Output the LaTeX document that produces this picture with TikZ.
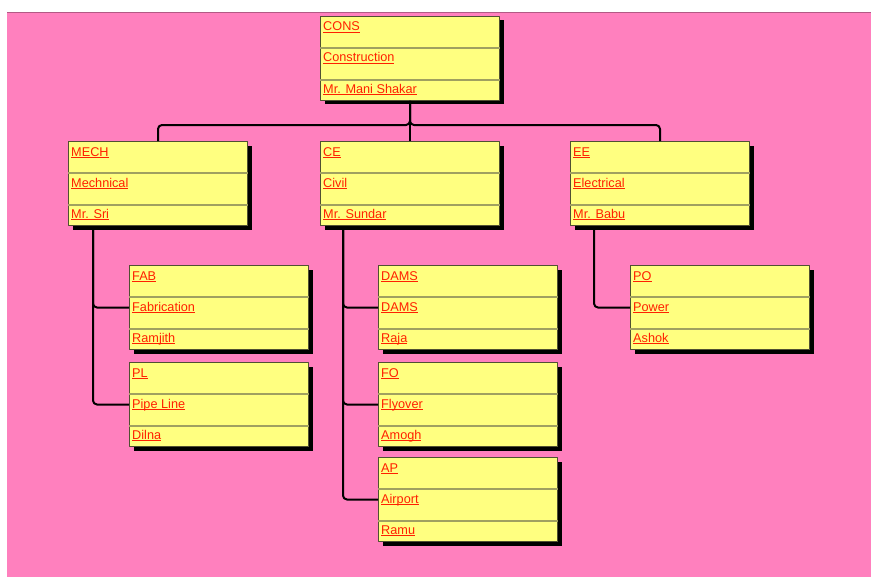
\documentclass[tikz,border=0pt]{standalone}
\usepackage{fontspec}
\setmainfont{Liberation Sans}
\usetikzlibrary{calc,shadows}
\definecolor{pagepink}{RGB}{255,128,190}
\definecolor{cardyellow}{RGB}{255,255,128}
\definecolor{cardedge}{RGB}{80,80,50}
\definecolor{rowline}{RGB}{160,160,96}
\definecolor{linkred}{RGB}{255,32,0}
\newcommand\linktext[1]{\setbox0\hbox{#1}\rlap{\rule[-1.8pt]{\wd0}{1.1pt}}\box0}
% one card: name, x, y, code, title, head
\newcommand\orgcard[6]{%
  \node [card] (#1) at (#2,#3) {};
  \draw [rowsep] ($(#1.north west)+(0,32)$) -- ($(#1.north east)+(0,32)$);
  \draw [rowsep] ($(#1.north west)+(0,64)$) -- ($(#1.north east)+(0,64)$);
  \node [cardtext] at ($(#1.north west)+(3,15)$) {\linktext{#4}};
  \node [cardtext] at ($(#1.north west)+(3,46)$) {\linktext{#5}};
  \node [cardtext] at ($(#1.north west)+(3,77)$) {\linktext{#6}};
}
\begin{document}
\begin{tikzpicture}[x=1pt, y=-1pt, line join=round,
   card/.style={anchor=north west, rectangle, draw=cardedge, line width=1pt,
      fill=cardyellow, minimum width=179pt, minimum height=84pt, inner sep=0pt,
      drop shadow={shadow xshift=4pt, shadow yshift=-4pt, fill=black, opacity=1}},
   rowsep/.style={draw=rowline, line width=1.3pt},
   cardtext/.style={anchor=base west, inner sep=0pt, text=linkred,
      font=\fontsize{12.7}{14}\selectfont},
   link/.style={draw=black, line width=2pt, rounded corners=4pt}]
	  \useasboundingbox (0,0) rectangle (871,578);
	  \fill [pagepink] (7,12) rectangle (871,577);
	  \draw [pagepink!70!black, line width=0.6pt] (7,12) -- (871,12);

	  \orgcard{cons}{320}{16}{CONS}{Construction}{Mr. Mani Shakar}
	  \orgcard{mech}{68}{141}{MECH}{Mechnical}{Mr. Sri}
	  \orgcard{ce}{320}{141}{CE}{Civil}{Mr. Sundar}
	  \orgcard{ee}{570}{141}{EE}{Electrical}{Mr. Babu}
	  \orgcard{fab}{129}{265}{FAB}{Fabrication}{Ramjith}
	  \orgcard{pl}{129}{362}{PL}{Pipe Line}{Dilna}
	  \orgcard{dams}{378}{265}{DAMS}{DAMS}{Raja}
	  \orgcard{fo}{378}{362}{FO}{Flyover}{Amogh}
	  \orgcard{ap}{378}{457}{AP}{Airport}{Ramu}
	  \orgcard{po}{630}{265}{PO}{Power}{Ashok}

	  % trunks below each head
	  \coordinate (mechtrunk) at ($(mech.south west)+(25,0)$);
	  \coordinate (cetrunk) at ($(ce.south west)+(23,0)$);
	  \coordinate (eetrunk) at ($(ee.south west)+(24,0)$);

	  \foreach \to in {mech, ee}
	    \draw [link] (cons.south) -- ++(0,24) -| (\to.north);
	  \draw [link] (cons.south) -- (ce.north);

	  \foreach \from/\to in {mechtrunk/fab, mechtrunk/pl, cetrunk/dams, cetrunk/fo,
	      cetrunk/ap, eetrunk/po}
	    \draw [link] (\from) |- (\to.west);

	\end{tikzpicture}
\end{document}
